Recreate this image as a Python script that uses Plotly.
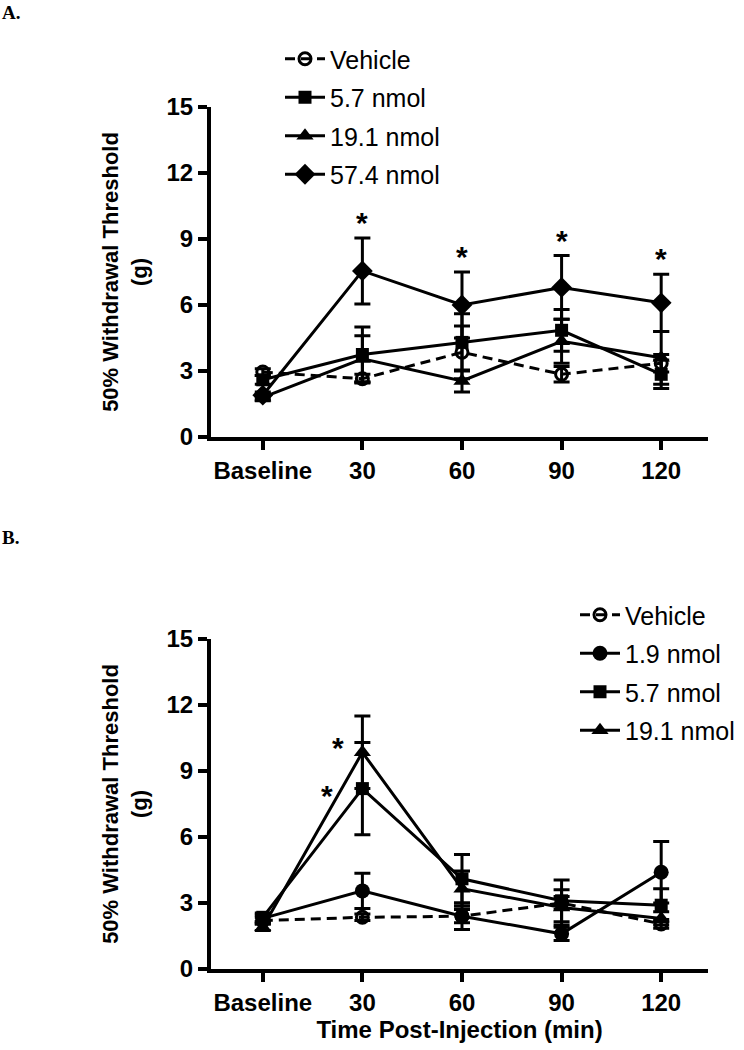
import plotly.graph_objects as go

time_labels = ["Baseline", "30", "60", "90", "120"]

# ---- Panel A ----
a_names = ["Vehicle", "5.7 nmol", "19.1 nmol", "57.4 nmol"]
a_vehicle = [2.95, 2.65, 3.85, 2.85, 3.35]
a_vehicle_err = [0.15, 0.2, 1.2, 0.35, 0.4]
a_5_7 = [2.6, 3.75, 4.3, 4.85, 2.85]
a_5_7_err = [0.2, 1.25, 1.3, 0.95, 0.65]
a_19_1 = [1.8, 3.55, 2.55, 4.35, 3.6]
a_19_1_err = [0.15, 1.05, 0.5, 1.0, 1.2]
a_57_4 = [1.9, 7.55, 6.0, 6.8, 6.1]
a_57_4_err = [0.15, 1.5, 1.5, 1.45, 1.3]
a_sig = ["30", "60", "90", "120"]  # significant points of 57.4 nmol

# ---- Panel B ----
b_names = ["Vehicle", "1.9 nmol", "5.7 nmol", "19.1 nmol"]
b_vehicle = [2.2, 2.35, 2.4, 3.0, 2.05]
b_vehicle_err = [0.15, 0.15, 0.3, 0.3, 0.2]
b_1_9 = [2.3, 3.55, 2.4, 1.6, 4.4]
b_1_9_err = [0.15, 0.8, 0.6, 0.3, 1.4]
b_5_7 = [2.35, 8.2, 4.1, 3.1, 2.9]
b_5_7_err = [0.2, 2.1, 1.1, 0.95, 0.75]
b_19_1 = [1.9, 9.85, 3.65, 2.8, 2.3]
b_19_1_err = [0.15, 1.65, 0.8, 0.8, 0.3]

y_ticks = [0, 3, 6, 9, 12, 15]

FONT = "Liberation Sans, Arial, sans-serif"


def make_trace(name, y, err, symbol, size, dash, xa, ya, legend):
    return go.Scatter(
        x=time_labels, y=y, name=name, mode="lines+markers",
        xaxis=xa, yaxis=ya, legend=legend, legendgroup=legend + name,
        line=dict(color="black", width=3, dash=dash),
        marker=dict(symbol=symbol, size=size, color="black",
                    line=dict(color="black", width=3 if "open" in symbol else 0)),
        error_y=dict(type="data", array=err, visible=True, color="black",
                     thickness=3, width=8),
    )


fig = go.Figure()
specA = [
    (a_names[0], a_vehicle, a_vehicle_err, "circle-open", 12, "10px,6px"),
    (a_names[1], a_5_7, a_5_7_err, "square", 13, "solid"),
    (a_names[2], a_19_1, a_19_1_err, "triangle-up", 15, "solid"),
    (a_names[3], a_57_4, a_57_4_err, "diamond", 16, "solid"),
]
for n, y, e, s, sz, d in specA:
    fig.add_trace(make_trace(n, y, e, s, sz, d, "x", "y", "legend"))

specB = [
    (b_names[0], b_vehicle, b_vehicle_err, "circle-open", 12, "10px,6px"),
    (b_names[1], b_1_9, b_1_9_err, "circle", 15, "solid"),
    (b_names[2], b_5_7, b_5_7_err, "square", 13, "solid"),
    (b_names[3], b_19_1, b_19_1_err, "triangle-up", 15, "solid"),
]
for n, y, e, s, sz, d in specB:
    fig.add_trace(make_trace(n, y, e, s, sz, d, "x2", "y2", "legend2"))

axis_common = dict(
    showline=True, linewidth=4, linecolor="black", mirror=False,
    ticks="outside", ticklen=9, tickwidth=3.5, tickcolor="black",
    showgrid=False, zeroline=False, automargin=False,
    tickfont=dict(family=FONT, size=24, color="black", weight="bold"),
)
xcommon = dict(axis_common, type="category", categoryorder="array",
               categoryarray=time_labels, range=[-0.52, 4.47])
ycommon = dict(axis_common, range=[0, 15], tickvals=y_ticks,
               title=dict(text="50% Withdrawal Threshold<br>(g)", standoff=14,
                          font=dict(family=FONT, size=22, color="black", weight="bold")))

legend_common = dict(
    font=dict(family=FONT, size=25, color="black"),
    bgcolor="rgba(0,0,0,0)", xanchor="left", yanchor="top",
    tracegroupgap=3, itemwidth=40,
)

fig.update_layout(
    width=744, height=1050,
    margin=dict(l=0, r=0, t=0, b=0, autoexpand=False),
    paper_bgcolor="white", plot_bgcolor="white",
    showlegend=True,
    xaxis=dict(xcommon, domain=[211 / 744, 708 / 744], anchor="y"),
    yaxis=dict(ycommon, domain=[1 - 437 / 1050, 1 - 107 / 1050], anchor="x"),
    xaxis2=dict(xcommon, domain=[211 / 744, 708 / 744], anchor="y2",
                title=dict(text="Time Post-Injection (min)", standoff=6,
                           font=dict(family=FONT, size=24, color="black", weight="bold"))),
    yaxis2=dict(ycommon, domain=[1 - 969 / 1050, 1 - 639 / 1050], anchor="x2"),
    legend=dict(legend_common, x=280 / 744, y=1 - 36 / 1050),
    legend2=dict(legend_common, x=575 / 744, y=1 - 592 / 1050),
)

annotations = []
# panel letters
annotations.append(dict(text="<b>A.</b>", x=0, y=1 - 0 / 1050, xref="paper", yref="paper",
                        xanchor="left", yanchor="top", showarrow=False,
                        font=dict(family="Liberation Serif, Times New Roman, serif", size=19, color="black")))
annotations.append(dict(text="<b>B.</b>", x=0, y=1 - 525 / 1050, xref="paper", yref="paper",
                        xanchor="left", yanchor="top", showarrow=False,
                        font=dict(family="Liberation Serif, Times New Roman, serif", size=19, color="black")))

star_font = dict(family=FONT, size=30, color="black", weight="bold")
for lab in a_sig:
    i = time_labels.index(lab)
    annotations.append(dict(text="*", x=i, y=a_57_4[i] + a_57_4_err[i], xref="x", yref="y",
                            xanchor="center", yanchor="bottom", yshift=-3, showarrow=False,
                            font=star_font))
# panel B stars at 30 min (19.1 nmol and 5.7 nmol)
i30 = time_labels.index("30")
annotations.append(dict(text="*", x=i30, y=b_19_1[i30], xref="x2", yref="y2",
                        xanchor="center", yanchor="middle", xshift=-24, yshift=5,
                        showarrow=False, font=star_font))
annotations.append(dict(text="*", x=i30, y=b_5_7[i30], xref="x2", yref="y2",
                        xanchor="center", yanchor="middle", xshift=-35, yshift=-7,
                        showarrow=False, font=star_font))
fig.update_layout(annotations=annotations)

fig.write_html("out.html", config={"displayModeBar": False},
               post_script="document.body.style.margin='0';")
